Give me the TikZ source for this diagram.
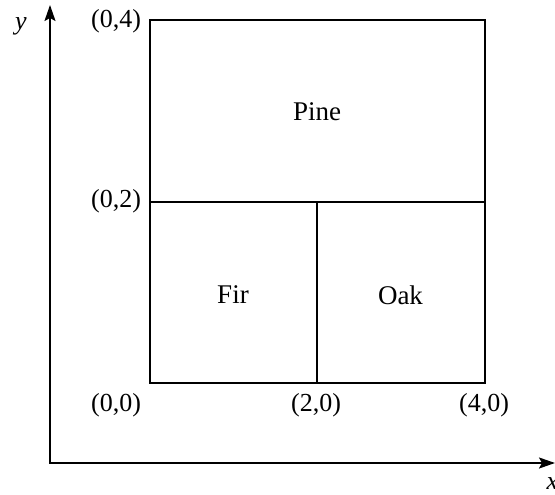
\documentclass[tikz,border=0pt]{standalone}
\usepackage{fontspec}
\setmainfont{Liberation Serif}
\usetikzlibrary{arrows.meta}
\begin{document}
\begin{tikzpicture}[x=1pt,y=-1pt,
  axis/.style={line width=2pt,{Stealth[length=16pt,width=11pt,inset=3pt]}-{Stealth[length=16pt,width=11pt,inset=3pt]}},
  region/.style={line width=1.5pt},
  coordlbl/.style={font=\fontsize{26}{30}\selectfont, inner sep=0pt},
  treelbl/.style={font=\fontsize{27}{32}\selectfont, inner sep=0pt},
  axislbl/.style={font=\fontsize{26}{30}\selectfont\itshape, inner sep=0pt}]
\useasboundingbox (0,0) rectangle (555,495);
% axes
\coordinate (O) at (50,463);
\coordinate (xend) at (555,463);
\coordinate (yend) at (50,5);
\draw[axis] (yend) -- (O) -- (xend);
\node[axislbl] (ylab) at (21,26) {y};
\node[axislbl] (xlab) at (552.5,484) {x};
% regions
\coordinate (A) at (150,20);
\coordinate (B) at (485,20);
\coordinate (C) at (485,383);
\coordinate (D) at (150,383);
\coordinate (ML) at (150,202);
\coordinate (MR) at (485,202);
\coordinate (MM) at (317,202);
\coordinate (MB) at (317,383);
\draw[region] (A) -- (B) -- (C) -- (D) -- cycle;
\draw[region] (ML) -- (MR);
\draw[region] (MM) -- (MB);
% tree labels
\node[treelbl] (pine) at (317,112) {Pine};
\node[treelbl] (fir) at (233,295) {Fir};
\node[treelbl] (oak) at (400.5,295) {Oak};
% coordinate labels
\node[coordlbl] (c04) at (116,21) {(0,4)};
\node[coordlbl] (c02) at (116,201) {(0,2)};
\node[coordlbl] (c00) at (116,405) {(0,0)};
\node[coordlbl] (c20) at (316,405) {(2,0)};
\node[coordlbl] (c40) at (484,405) {(4,0)};
\end{tikzpicture}
\end{document}
